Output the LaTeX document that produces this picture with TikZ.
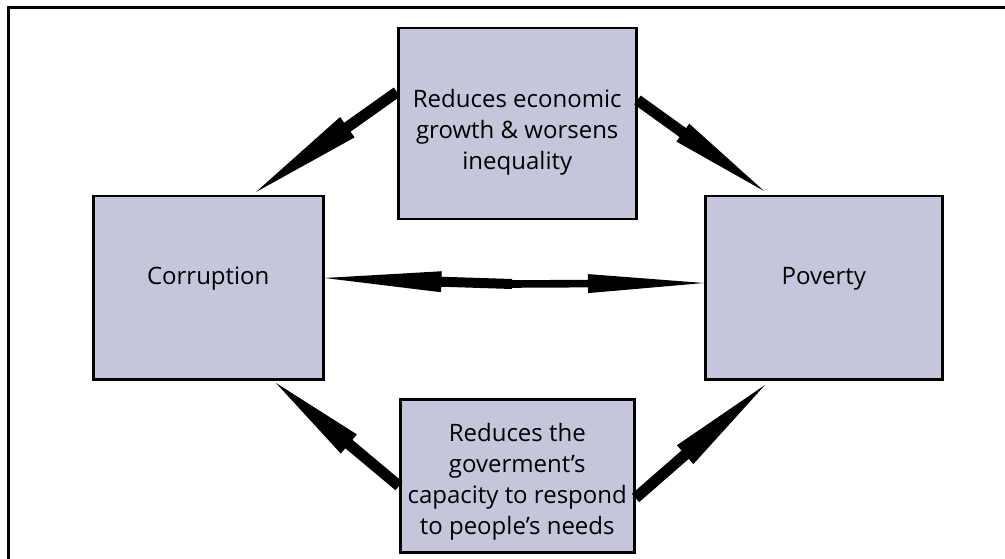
\documentclass[tikz,border=0pt]{standalone}
\usepackage{fontspec}
\setmainfont{Open Sans}
\usetikzlibrary{calc}
\definecolor{boxfill}{RGB}{197,198,220}
\tikzset{
  box/.style={draw=black, line width=2.5pt, fill=boxfill, anchor=north west, inner sep=0pt},
  boxtext/.style={font=\fontsize{24pt}{31pt}\selectfont, align=center, text=black},
  fatfill/.style={fill=black}
}
% #1 from, #2 to, #3 head length, #4 half head width, #5 half shaft width
\newcommand\fatarr[5]{%
  \path ($(#2)!#3!(#1)$) coordinate (hb);
  \fill[fatfill] ($(#1)!#5!90:(#2)$) -- ($(hb)!#5!90:(#2)$) -- ($(hb)!#4!90:(#2)$) -- (#2)
     -- ($(hb)!#4!-90:(#2)$) -- ($(hb)!#5!-90:(#2)$) -- ($(#1)!#5!-90:(#2)$) -- cycle;}
\begin{document}
\begin{tikzpicture}[x=1pt,y=-1pt]
\useasboundingbox (0,0) rectangle (1005,559);
\clip (0,0) rectangle (1005,559);
\draw[line width=3pt] (8,8) rectangle (1012,570);

\node[box, minimum width=238pt, minimum height=191pt] (top) at (397,27) {};
\node[box, minimum width=230pt, minimum height=183pt] (corr) at (92,195) {};
\node[box, minimum width=237pt, minimum height=183pt] (pov) at (704,195) {};
\node[box, minimum width=234pt, minimum height=153pt] (bot) at (399,398) {};

\node[boxtext] (toptext) at ([yshift=-9pt]top.center) {Reduces economic\\growth \& worsens\\inequality};
\node[boxtext] (corrtext) at ([yshift=9pt]corr.center) {Corruption};
\node[boxtext] (povtext) at ([yshift=9pt]pov.center) {Poverty};
\node[boxtext] (bottext) at ([yshift=-6pt]bot.center) {Reduces the\\goverment’s\\capacity to respond\\to people’s needs};

\coordinate (tlTail) at (top.north west |- 0,92);
\coordinate (tlTip) at (256,192);
\coordinate (trTail) at (top.north east |- 0,100);
\coordinate (trTip) at (764,191);
\coordinate (blTail) at (bot.north west |- 0,486);
\coordinate (blTip) at (276,383);
\coordinate (brTail) at (bot.north east |- 0,498);
\coordinate (brTip) at (765,385);
\coordinate (mid) at (512,284);
\coordinate (hlTip) at (corr.east |- 0,278);
\coordinate (hrTip) at (pov.west |- 0,283);

\fatarr{tlTail}{tlTip}{112pt}{12.5pt}{5.5pt}
\fatarr{trTail}{trTip}{100pt}{11pt}{5.5pt}
\fatarr{blTail}{blTip}{95pt}{12.5pt}{5.5pt}
\fatarr{brTail}{brTip}{106pt}{12.5pt}{5.5pt}
\fatarr{mid}{hlTip}{117pt}{10.5pt}{5pt}
\fatarr{mid}{hrTip}{116pt}{9.5pt}{3.8pt}
\end{tikzpicture}
\end{document}
